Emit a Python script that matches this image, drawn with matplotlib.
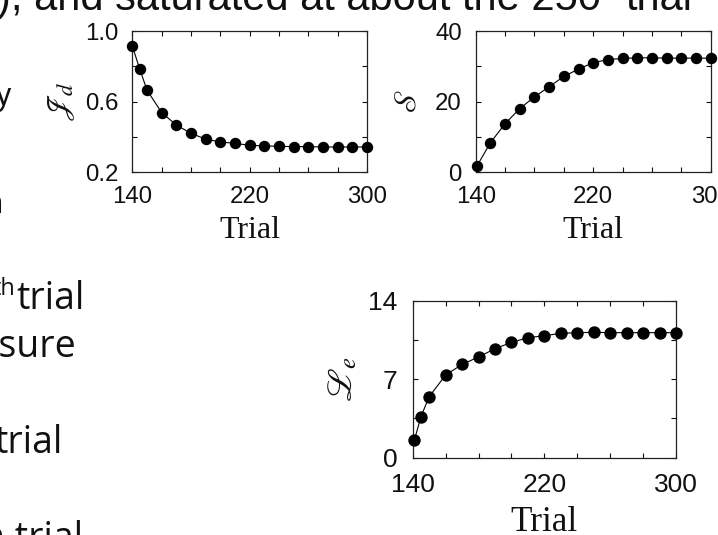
import matplotlib
matplotlib.use('Agg')
import matplotlib.pyplot as plt

plt.rcParams['font.family'] = ['Liberation Sans', 'DejaVu Sans']
plt.rcParams['mathtext.fontset'] = 'stix'

# ---------------- data ----------------
trials_jd = [140, 145, 150, 160, 170, 180, 190, 200, 210, 220, 230, 240, 250, 260, 270, 280, 290, 300]
jd_values = [0.915, 0.786, 0.665, 0.537, 0.467, 0.419, 0.387, 0.370, 0.363, 0.351,
             0.348, 0.346, 0.344, 0.344, 0.342, 0.342, 0.342, 0.342]

trials_s = [141, 150, 160, 170, 180, 190, 200, 210, 220, 230, 240, 250, 260, 270, 280, 290, 300]
s_values = [1.8, 8.3, 13.7, 18.0, 21.3, 24.2, 27.1, 29.2, 31.0, 31.9, 32.2, 32.4, 32.4,
            32.3, 32.3, 32.3, 32.3]

trials_le = [141, 145, 150, 160, 170, 180, 190, 200, 210, 220, 230, 240, 250, 260, 270, 280, 290, 300]
le_values = [1.55, 3.66, 5.44, 7.37, 8.32, 8.98, 9.72, 10.28, 10.70, 10.88, 11.09, 11.15,
             11.18, 11.15, 11.15, 11.15, 11.15, 11.15]

x_ticks = [140, 160, 180, 200, 220, 240, 260, 280, 300]
x_tick_labels = ['140', '', '', '', '220', '', '', '', '300']

jd_ticks = [0.2, 0.4, 0.6, 0.8, 1.0]
jd_tick_labels = ['0.2', '', '0.6', '', '1.0']
s_ticks = [0, 10, 20, 30, 40]
s_tick_labels = ['0', '', '20', '', '40']
le_ticks = [0, 3.5, 7, 10.5, 14]
le_tick_labels = ['0', '', '7', '', '14']

x_label = 'Trial'
y_labels = [r'$\mathscr{J}_d$', r'$\mathscr{S}$', r'$\mathscr{L}_e$']

# ---------------- layout helpers ----------------
W, H = 718, 535
fig = plt.figure(figsize=(W / 100, H / 100), dpi=100)
fig.patch.set_facecolor('white')


def box(left, top, right, bottom):
    return [left / W, 1 - bottom / H, (right - left) / W, (bottom - top) / H]


def px(x, y):
    return x / W, 1 - y / H


def panel(rect, xs, ys, yticks, ylabels, ylim, ylabel, scale=1.0, ypad=6):
    ax = fig.add_axes(rect)
    ax.plot(xs, ys, '-', color='black', lw=0.8, marker='o', ms=7.2 * scale,
            mfc='black', mec='black', clip_on=False, zorder=3)
    ax.set_xlim(140, 300)
    ax.set_ylim(*ylim)
    ax.set_xticks(x_ticks)
    ax.set_xticklabels(x_tick_labels)
    ax.set_yticks(yticks)
    ax.set_yticklabels(ylabels)
    ax.tick_params(direction='in', top=True, right=True, length=3.6, width=0.8,
                   labelsize=17.3 * scale, colors='#111111')
    ax.tick_params(axis='x', pad=10 * scale)
    ax.tick_params(axis='y', pad=10 * scale)
    for sp in ax.spines.values():
        sp.set_linewidth(0.9)
        sp.set_color('#222222')
    ax.set_xlabel(x_label, family='Liberation Serif', fontsize=23 * scale,
                  labelpad=6 * scale, color='#111111')
    ax.set_ylabel(ylabel, fontsize=23 * scale, labelpad=ypad * scale, color='#111111')
    return ax


panel(box(132.3, 31, 367, 172), trials_jd, jd_values, jd_ticks, jd_tick_labels,
      (0.2, 1.0), y_labels[0])
panel(box(475.7, 31, 710.7, 172), trials_s, s_values, s_ticks, s_tick_labels,
      (0, 40), y_labels[1], ypad=9)
panel(box(412.7, 300.7, 676, 457.7), trials_le, le_values, le_ticks, le_tick_labels,
      (0, 14), y_labels[2], scale=1.1)

# ---------------- surrounding page text fragments ----------------
sans = ['Liberation Sans', 'DejaVu Sans']
body = ['Open Sans', 'DejaVu Sans']
tc = '#111111'

fig.text(*px(601, 10), '), and saturated at about the 250', ha='right', va='baseline',
         fontsize=30, family=sans, color=tc)
fig.text(*px(602, -3), 'th', ha='left', va='baseline', fontsize=17, family=sans, color=tc)
fig.text(*px(625, 10), 'trial', ha='left', va='baseline', fontsize=30, family=sans, color=tc)

fig.text(*px(11, 105), 'y', ha='right', va='baseline', fontsize=22, family=sans, color=tc)
fig.text(*px(3, 213), 'n', ha='right', va='baseline', fontsize=22, family=sans, color=tc)

fig.text(*px(15, 295), 'th', ha='right', va='baseline', fontsize=17, family=body, color=tc)
fig.text(*px(85, 309), 'trial', ha='right', va='baseline', fontsize=27, family=body, color=tc)
fig.text(*px(77, 357), 'exposure', ha='right', va='baseline', fontsize=27, family=body, color=tc)
fig.text(*px(63, 453), 'trial', ha='right', va='baseline', fontsize=27, family=body, color=tc)
fig.text(*px(83, 549), 'n trial', ha='right', va='baseline', fontsize=27, family=body, color=tc)

fig.savefig('out.png', dpi=100, facecolor='white')
